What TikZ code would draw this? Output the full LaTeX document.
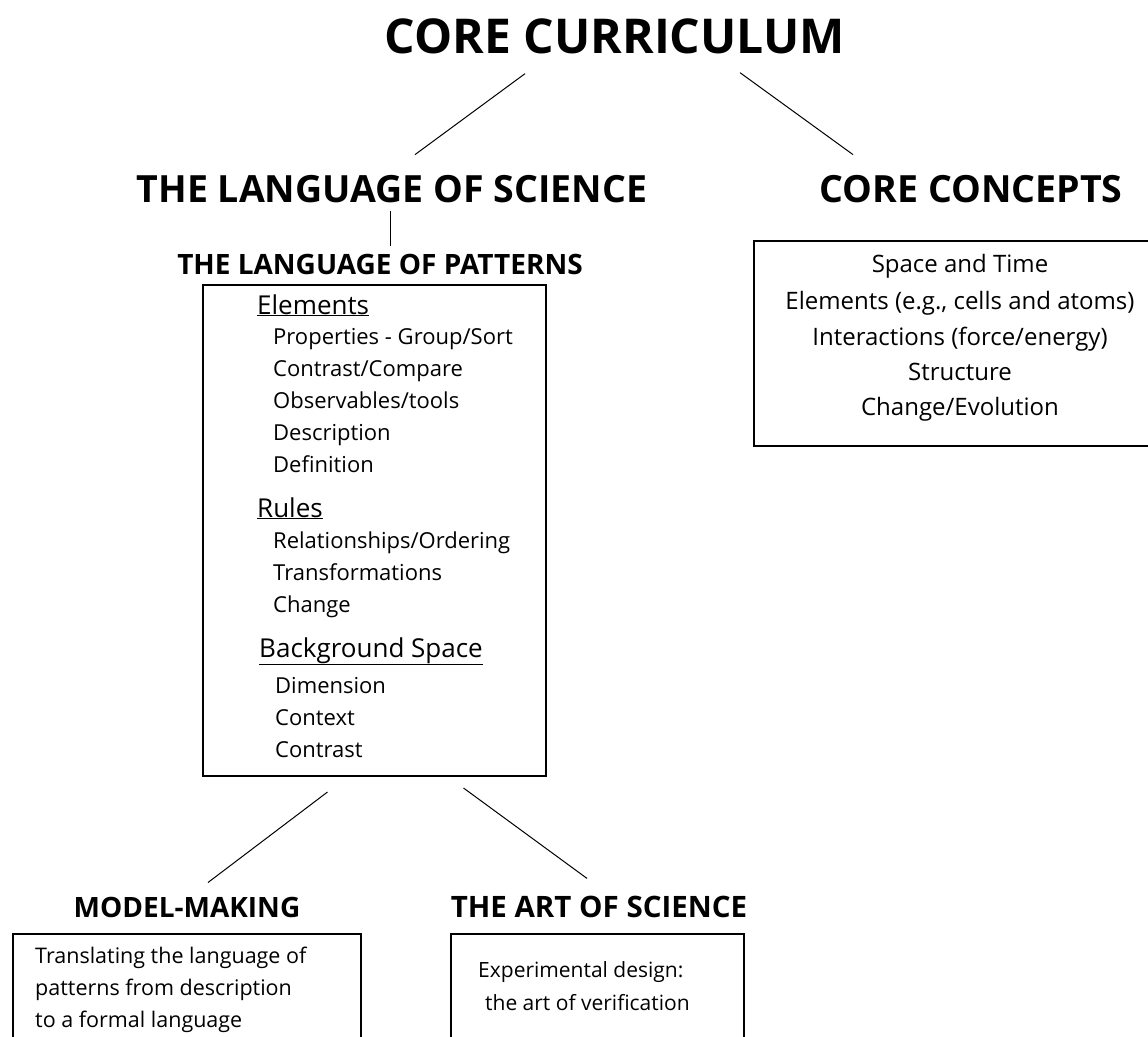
\documentclass[tikz,border=0pt]{standalone}
\usepackage{fontspec}
\setmainfont{Open Sans}

\begin{document}
\begin{tikzpicture}[x=1pt, y=-1pt, inner sep=0pt,
        every node/.style={anchor=base, font=\fontsize{22}{26}\selectfont},
        head/.style={font=\bfseries\fontsize{37.5}{40}\selectfont},
        subhead/.style={font=\bfseries\fontsize{28}{32}\selectfont},
        group/.style={anchor=base west, font=\fontsize{26}{30}\selectfont},
        item/.style={anchor=base west},
        box/.style={draw, line width=2pt, anchor=north west},
        link/.style={line width=1pt}]
        \useasboundingbox (0,0) rectangle (1148,1036);
        \clip (0,0) rectangle (1148,1036);

        \node[font=\bfseries\fontsize{48}{52}\selectfont] (title) at (615,53) {CORE CURRICULUM};
        \node[head] (los) at (392,202) {THE LANGUAGE OF SCIENCE};
        \node[head] (cc) at (971,202) {CORE CONCEPTS};
        \node[subhead] (lop) at (380,274) {THE LANGUAGE OF PATTERNS};

        \draw[link] ([xshift=-90pt,yshift=-20pt]title.south) -- ([xshift=23pt,yshift=20pt]los.north);
        \draw[link] ([xshift=125pt,yshift=-19pt]title.south) -- ([xshift=-118pt,yshift=20pt]cc.north);
        \draw[link] ([xshift=-2pt,yshift=-8pt]los.south) -- ([xshift=10pt,yshift=8pt]lop.north);

        \node[box, minimum width=343, minimum height=491] (lopbox) at (202,284) {};
        \node[group] (elem) at (257,314) {\underline{Elements}};
        \node[item] (e1) at (273,344) {Properties - Group/Sort};
        \node[item] (e2) at (273,376) {Contrast/Compare};
        \node[item] (e3) at (273,408) {Observables/tools};
        \node[item] (e4) at (273,440) {Description};
        \node[item] (e5) at (273,472) {Definition};
        \node[group] (rules) at (257,517) {\underline{Rules}};
        \node[item] (r1) at (273,548) {Relationships/Ordering};
        \node[item] (r2) at (273,580) {Transformations};
        \node[item] (r3) at (273,612) {Change};
        \node[group] (bgs) at (259,657) {\underline{Background Space}};
        \node[item] (b1) at (275,693) {Dimension};
        \node[item] (b2) at (275,725) {Context};
        \node[item] (b3) at (275,757) {Contrast};

        \node[box, minimum width=410, minimum height=205] (ccbox) at (753,240) {};
        \node[font=\fontsize{24}{28}\selectfont] (c1) at (960,272) {Space and Time};
        \node[font=\fontsize{24}{28}\selectfont] (c2) at (960,309) {Elements (e.g., cells and atoms)};
        \node[font=\fontsize{24}{28}\selectfont] (c3) at (960,345) {Interactions (force/energy)};
        \node[font=\fontsize{24}{28}\selectfont] (c4) at (960,380) {Structure};
        \node[font=\fontsize{24}{28}\selectfont] (c5) at (960,415) {Change/Evolution};

        \node[subhead] (mm) at (187,917) {MODEL-MAKING};
        \node[subhead, font=\bfseries\fontsize{29.5}{33}\selectfont] (art) at (599,917) {THE ART OF SCIENCE};

        \draw[link] ([xshift=-47pt,yshift=-15pt]lopbox.south) -- ([xshift=21pt,yshift=14pt]mm.north);
        \draw[link] ([xshift=89pt,yshift=-11pt]lopbox.south) -- ([xshift=-12pt,yshift=17pt]art.north);

        \node[box, minimum width=348, minimum height=120] (mmbox) at (12,933) {};
        \node[item, font=\fontsize{21.5}{25}\selectfont] (mm1) at (35,963) {Translating the language of};
        \node[item, font=\fontsize{21.5}{25}\selectfont] (mm2) at (35,995) {patterns from description};
        \node[item, font=\fontsize{21.5}{25}\selectfont] (mm3) at (35,1027) {to a formal language};

        \node[box, minimum width=293, minimum height=120] (artbox) at (450,933) {};
        \node[item, font=\fontsize{21}{25}\selectfont] (art1) at (478,977) {Experimental design:};
        \node[item, font=\fontsize{21}{25}\selectfont] (art2) at (485,1010) {the art of verification};
\end{tikzpicture}
\end{document}
